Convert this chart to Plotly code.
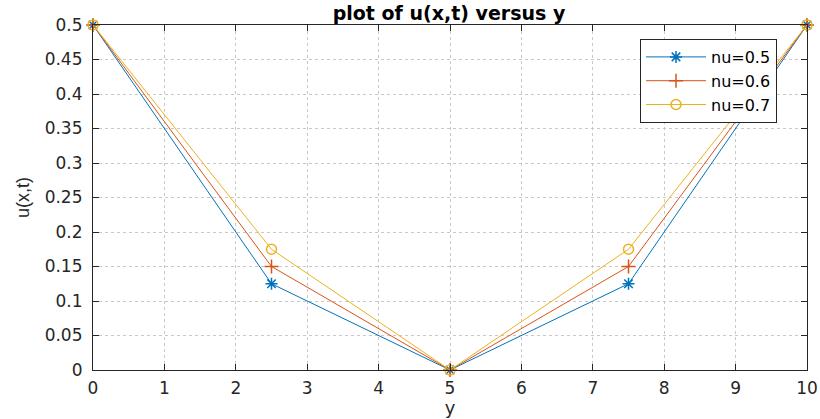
import plotly.graph_objects as go

y_vals = [0, 2.5, 5, 7.5, 10]
u_nu05 = [0.5, 0.125, 0, 0.125, 0.5]
u_nu06 = [0.5, 0.15, 0, 0.15, 0.5]
u_nu07 = [0.5, 0.175, 0, 0.175, 0.5]
names = ["nu=0.5", "nu=0.6", "nu=0.7"]
colors = ["#0072BD", "#D95319", "#EDB120"]
symbols = ["asterisk-open", "cross-thin-open", "circle-open"]
x_ticks = list(range(0, 11))
y_ticks = [0, 0.05, 0.1, 0.15, 0.2, 0.25, 0.3, 0.35, 0.4, 0.45, 0.5]

fig = go.Figure()
for vals, name, c, s in zip([u_nu05, u_nu06, u_nu07], names, colors, symbols):
    fig.add_trace(go.Scatter(
        x=y_vals, y=vals, mode="lines+markers", name=name,
        line=dict(color=c, width=1),
        marker=dict(symbol=s, size=10, color=c, line=dict(color=c, width=1.5)),
        cliponaxis=False,
    ))

font = "DejaVu Sans, Verdana, sans-serif"
axis_common = dict(
    showline=True, linecolor="#262626", linewidth=1.2, mirror="ticks",
    ticks="inside", ticklen=6, tickcolor="#262626",
    showgrid=True, gridcolor="#c8c8c8", griddash="dot", gridwidth=1,
    zeroline=False, tickfont=dict(family=font, size=17, color="#262626"),
    automargin=False,
)
fig.update_layout(
    width=820, height=419,
    margin=dict(l=93, r=13, t=25, b=49),
    paper_bgcolor="white", plot_bgcolor="white",
    title=dict(text="<b>plot of u(x,t) versus y</b>", x=449 / 820, xanchor="center",
               y=1 - 13 / 419, yanchor="middle", automargin=False,
               font=dict(family=font, size=19, color="black")),
    xaxis=dict(range=[0, 10], tickvals=x_ticks, ticklabelstandoff=2,
               title=dict(text="y", font=dict(family=font, size=18, color="#262626"), standoff=4),
               **axis_common),
    yaxis=dict(range=[0, 0.5], tickvals=y_ticks, ticktext=[f"{v:g}" for v in y_ticks],
               ticklabelstandoff=6,
               title=dict(text="u(x,t)", font=dict(family="Liberation Sans, Arial, sans-serif",
                                                   size=18, color="#262626"), standoff=10),
               **axis_common),
    legend=dict(x=(640 - 93) / 714, y=(370 - 39) / 345, xanchor="left", yanchor="top",
                bgcolor="white", bordercolor="#262626", borderwidth=1,
                font=dict(family=font, size=16, color="black"),
                tracegroupgap=0, itemwidth=60),
    showlegend=True,
)
fig.write_html("out.html", config={"displayModeBar": False},
               post_script="document.body.style.margin='0';document.body.style.overflow='hidden';")
